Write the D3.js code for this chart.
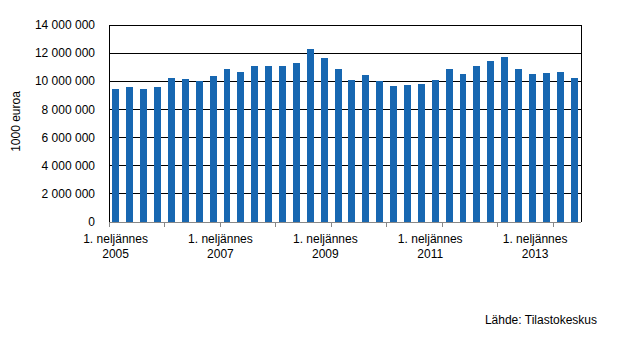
<!DOCTYPE html>
<html>
<head>
<meta charset="utf-8">
<script src="https://cdn.jsdelivr.net/npm/d3@7/dist/d3.min.js"></script>
<style>
  html, body { margin: 0; padding: 0; background: #fff; }
  svg { display: block; font-family: Arial, "Liberation Sans", sans-serif; }
</style>
</head>
<body>
<svg id="chart" width="626" height="342"></svg>
<script>
// Quarterly series, 2005 Q1 – 2013 Q2 (1000 euroa)
const years = [2005, 2006, 2007, 2008, 2009, 2010, 2011, 2012, 2013];
const quarters = years.flatMap(y => [1, 2, 3, 4].map(q => `${y}Q${q}`)).slice(0, 34);
const values = [
  9470000, 9610000, 9470000, 9610000,
  10250000, 10180000, 10010000, 10410000,
  10890000, 10680000, 11100000, 11100000,
  11100000, 11320000, 12310000, 11670000,
  10890000, 10110000, 10460000, 10040000,
  9680000, 9750000, 9820000, 10110000,
  10890000, 10530000, 11100000, 11460000,
  11740000, 10890000, 10530000, 10610000,
  10680000, 10250000
];
const yTicks = [0, 2000000, 4000000, 6000000, 8000000, 10000000, 12000000, 14000000];
const xLabelYears = [2005, 2007, 2009, 2011, 2013];
const xLabelPrefix = "1. neljännes";
const yTitle = "1000 euroa";
const source = "Lähde: Tilastokeskus";

const svg = d3.select("#chart");
const plot = { left: 109, right: 581, top: 25, bottom: 222 };

const x = d3.scaleBand()
  .domain(quarters)
  .range([plot.left, plot.right])
  .paddingInner(0.5)
  .paddingOuter(0.25);

const y = d3.scaleLinear()
  .domain([0, 14000000])
  .range([plot.bottom, plot.top]);

const fmt = v => d3.format(",")(v).replace(/,/g, " ");

// horizontal gridlines
svg.append("g")
  .selectAll("line")
  .data(yTicks.filter(d => d > 0))
  .join("line")
  .attr("x1", plot.left).attr("x2", plot.right)
  .attr("y1", d => y(d)).attr("y2", d => y(d))
  .attr("stroke", "#000").attr("stroke-width", 1)
  .attr("shape-rendering", "crispEdges");

// plot frame sides
svg.append("line")
  .attr("x1", plot.left).attr("x2", plot.left)
  .attr("y1", plot.top).attr("y2", plot.bottom)
  .attr("stroke", "#000").attr("shape-rendering", "crispEdges");
svg.append("line")
  .attr("x1", plot.right).attr("x2", plot.right)
  .attr("y1", plot.top).attr("y2", plot.bottom)
  .attr("stroke", "#000").attr("shape-rendering", "crispEdges");

// bars
svg.append("g")
  .selectAll("rect")
  .data(values)
  .join("rect")
  .attr("x", (d, i) => x(quarters[i]))
  .attr("width", x.bandwidth())
  .attr("y", d => y(d))
  .attr("height", d => y(0) - y(d))
  .attr("fill", "#1767b1")
  .attr("shape-rendering", "crispEdges");

// y tick labels
svg.append("g")
  .selectAll("text")
  .data(yTicks)
  .join("text")
  .attr("x", plot.left - 14)
  .attr("y", d => y(d))
  .attr("dy", "0.35em")
  .attr("text-anchor", "end")
  .attr("font-size", 12)
  .attr("fill", "#000")
  .text(fmt);

// x axis line and ticks (every year boundary)
svg.append("line")
  .attr("x1", plot.left).attr("x2", plot.right)
  .attr("y1", plot.bottom).attr("y2", plot.bottom)
  .attr("stroke", "#888").attr("shape-rendering", "crispEdges");

const step = x.step();
const tickIdx = d3.range(0, quarters.length + 1, 4);
svg.append("g")
  .selectAll("line")
  .data(tickIdx)
  .join("line")
  .attr("x1", i => plot.left + i * (plot.right - plot.left) / quarters.length)
  .attr("x2", i => plot.left + i * (plot.right - plot.left) / quarters.length)
  .attr("y1", plot.bottom).attr("y2", plot.bottom + 5)
  .attr("stroke", "#888").attr("shape-rendering", "crispEdges");

// category labels every second year
const labelScale = d3.scaleLinear()
  .domain([0, 36])
  .range([plot.left, plot.right]);
const lab = svg.append("g")
  .selectAll("text")
  .data(xLabelYears)
  .join("text")
  .attr("x", (d, i) => Math.max(labelScale(i * 8 + 0.5), 112))
  .attr("text-anchor", "middle")
  .attr("font-size", 12)
  .attr("fill", "#000");
lab.append("tspan").attr("x", function() { return this.parentNode.getAttribute("x"); })
  .attr("y", 243).text(xLabelPrefix);
lab.append("tspan").attr("x", function() { return this.parentNode.getAttribute("x"); })
  .attr("y", 258).text(d => d);

// y axis title
svg.append("text")
  .attr("transform", `translate(20, ${(plot.top + plot.bottom) / 2 - 2}) rotate(-90)`)
  .attr("text-anchor", "middle")
  .attr("font-size", 12)
  .attr("fill", "#000")
  .text(yTitle);

// source note
svg.append("text")
  .attr("x", 597)
  .attr("y", 324)
  .attr("text-anchor", "end")
  .attr("font-size", 12)
  .attr("fill", "#000")
  .text(source);
</script>
</body>
</html>
